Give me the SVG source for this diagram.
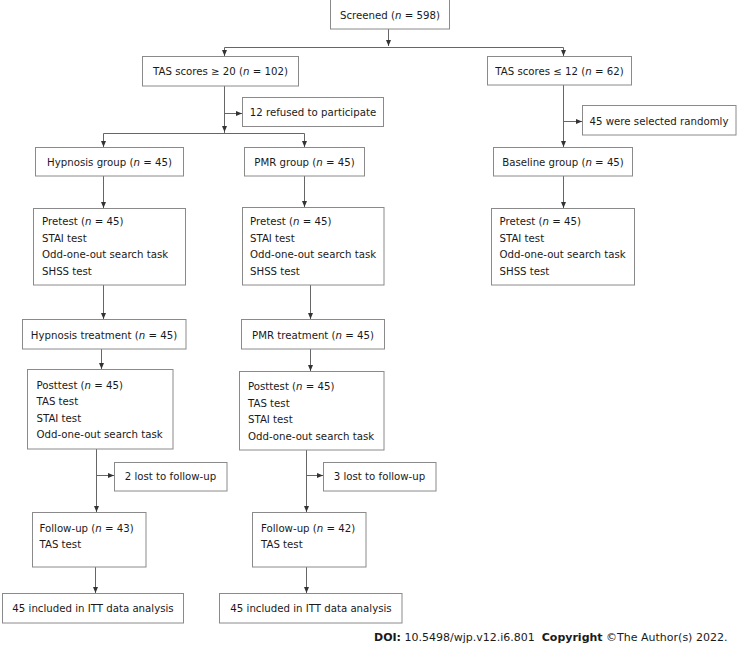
<svg xmlns="http://www.w3.org/2000/svg" width="738" height="645" viewBox="0 0 738 645">
<defs>
<marker id="ah" viewBox="0 0 6 6" refX="6" refY="3" markerWidth="6" markerHeight="6" markerUnits="userSpaceOnUse" orient="auto">
<path d="M0,0.5 L6,3 L0,5.5 z" fill="#333"/>
</marker>
<style>
.b{fill:#fff;stroke:#8a8a8a;stroke-width:1}
.t{font-family:"DejaVu Sans",Verdana,sans-serif;font-size:10.2px;fill:#1a1a1a}
.c{text-anchor:middle}
.l{fill:none;stroke:#666;stroke-width:1}
.a{fill:none;stroke:#666;stroke-width:1;marker-end:url(#ah)}
.i{font-style:italic}
.bold{font-weight:bold}
</style>
</defs>
<rect width="738" height="645" fill="#fff"/>

<g id="connectors">
<path class="a" d="M388.5,29 V46"/>
<path class="l" d="M224.5,47.5 H563.5"/>
<path class="a" d="M224.5,47.5 V56"/>
<path class="a" d="M563.5,47.5 V56"/>
<path class="l" d="M224.5,86 V133"/>
<path class="a" d="M224.5,113.5 H242"/>
<path class="a" d="M224.5,125 V132"/>
<path class="l" d="M103.5,133.5 H304.5"/>
<path class="a" d="M103.5,133.5 V147"/>
<path class="a" d="M304.5,133.5 V147"/>
<path class="a" d="M563.5,85 V147"/>
<path class="a" d="M563.5,121.5 H582"/>
<path class="a" d="M103.5,176 V208"/>
<path class="a" d="M304.5,176 V207"/>
<path class="a" d="M563.5,176 V208"/>
<path class="a" d="M103.5,285 V319"/>
<path class="a" d="M310.5,285 V319"/>
<path class="a" d="M101.5,349 V369"/>
<path class="a" d="M310.5,349 V371"/>
<path class="a" d="M96.5,449 V512"/>
<path class="a" d="M96.5,475.5 H114"/>
<path class="a" d="M306.5,450 V512"/>
<path class="a" d="M306.5,475.5 H323"/>
<path class="a" d="M95.5,567 V593"/>
<path class="a" d="M306.5,567 V593"/>
</g>

<g id="screened">
<rect class="b" x="330.5" y="-0.5" width="119" height="29.5"/>
<text class="t c" x="390" y="18.5">Screened (<tspan class="i">n</tspan> = 598)</text>
</g>
<g id="tas-high">
<rect class="b" x="142.5" y="56.5" width="156" height="29.5"/>
<text class="t c" x="220.5" y="75">TAS scores ≥ 20 (<tspan class="i">n</tspan> = 102)</text>
</g>
<g id="tas-low">
<rect class="b" x="487.5" y="56.5" width="144" height="28.5"/>
<text class="t c" x="559.5" y="74.5">TAS scores ≤ 12 (<tspan class="i">n</tspan> = 62)</text>
</g>
<g id="refused">
<rect class="b" x="242.5" y="97.5" width="141" height="29"/>
<text class="t c" x="313" y="115.5">12 refused to participate</text>
</g>
<g id="selected">
<rect class="b" x="582.5" y="105.5" width="153.5" height="29.5"/>
<text class="t c" x="659" y="124.5">45 were selected randomly</text>
</g>
<g id="hypnosis-group">
<rect class="b" x="35.5" y="147.5" width="148" height="28.5"/>
<text class="t c" x="109.5" y="165.5">Hypnosis group (<tspan class="i">n</tspan> = 45)</text>
</g>
<g id="pmr-group">
<rect class="b" x="244.5" y="147.5" width="120" height="28.5"/>
<text class="t c" x="304.5" y="165.5">PMR group (<tspan class="i">n</tspan> = 45)</text>
</g>
<g id="baseline-group">
<rect class="b" x="493.5" y="147.5" width="139" height="28.5"/>
<text class="t c" x="563" y="165.5">Baseline group (<tspan class="i">n</tspan> = 45)</text>
</g>
<g id="pretest-hypnosis">
<rect class="b" x="33.5" y="208.5" width="152" height="76.5"/>
<text class="t" x="42" y="225">Pretest (<tspan class="i">n</tspan> = 45)</text>
<text class="t" x="42" y="241.5">STAI test</text>
<text class="t" x="42" y="258">Odd-one-out search task</text>
<text class="t" x="42" y="274.5">SHSS test</text>
</g>
<g id="pretest-pmr">
<rect class="b" x="242.5" y="207.5" width="141.5" height="77.5"/>
<text class="t" x="250" y="225">Pretest (<tspan class="i">n</tspan> = 45)</text>
<text class="t" x="250" y="241.5">STAI test</text>
<text class="t" x="250" y="258">Odd-one-out search task</text>
<text class="t" x="250" y="274.5">SHSS test</text>
</g>
<g id="pretest-baseline">
<rect class="b" x="491.5" y="208.5" width="143" height="76.5"/>
<text class="t" x="499.5" y="225">Pretest (<tspan class="i">n</tspan> = 45)</text>
<text class="t" x="499.5" y="241.5">STAI test</text>
<text class="t" x="499.5" y="258">Odd-one-out search task</text>
<text class="t" x="499.5" y="274.5">SHSS test</text>
</g>
<g id="hypnosis-treatment">
<rect class="b" x="22.5" y="319.5" width="163.5" height="29.5"/>
<text class="t c" x="104" y="338.5">Hypnosis treatment (<tspan class="i">n</tspan> = 45)</text>
</g>
<g id="pmr-treatment">
<rect class="b" x="241.5" y="319.5" width="143" height="29.5"/>
<text class="t c" x="313" y="338.5">PMR treatment (<tspan class="i">n</tspan> = 45)</text>
</g>
<g id="posttest-hypnosis">
<rect class="b" x="27.5" y="369.5" width="145.5" height="79.5"/>
<text class="t" x="36.5" y="388.5">Posttest (<tspan class="i">n</tspan> = 45)</text>
<text class="t" x="36.5" y="405">TAS test</text>
<text class="t" x="36.5" y="421.5">STAI test</text>
<text class="t" x="36.5" y="438">Odd-one-out search task</text>
</g>
<g id="posttest-pmr">
<rect class="b" x="239.5" y="371.5" width="144.5" height="78.5"/>
<text class="t" x="248" y="390">Posttest (<tspan class="i">n</tspan> = 45)</text>
<text class="t" x="248" y="406.5">TAS test</text>
<text class="t" x="248" y="423">STAI test</text>
<text class="t" x="248" y="439.5">Odd-one-out search task</text>
</g>
<g id="lost-hypnosis">
<rect class="b" x="114.5" y="462.5" width="112.5" height="28.5"/>
<text class="t c" x="170.5" y="480">2 lost to follow-up</text>
</g>
<g id="lost-pmr">
<rect class="b" x="323.5" y="462.5" width="112.5" height="28.5"/>
<text class="t c" x="379.5" y="480">3 lost to follow-up</text>
</g>
<g id="followup-hypnosis">
<rect class="b" x="32.5" y="512.5" width="113.5" height="54.5"/>
<text class="t" x="39.5" y="531.5">Follow-up (<tspan class="i">n</tspan> = 43)</text>
<text class="t" x="39.5" y="548">TAS test</text>
</g>
<g id="followup-pmr">
<rect class="b" x="252.5" y="512.5" width="113.5" height="54.5"/>
<text class="t" x="261" y="531.5">Follow-up (<tspan class="i">n</tspan> = 42)</text>
<text class="t" x="261" y="548">TAS test</text>
</g>
<g id="itt-hypnosis">
<rect class="b" x="2.5" y="593.5" width="181" height="29.5"/>
<text class="t c" x="93" y="612">45 included in ITT data analysis</text>
</g>
<g id="itt-pmr">
<rect class="b" x="219.5" y="593.5" width="182.5" height="29.5"/>
<text class="t c" x="311" y="612">45 included in ITT data analysis</text>
</g>

<g id="footer">
<text class="t" x="374" y="640.5" style="font-size:11px"><tspan class="bold">DOI:</tspan> 10.5498/wjp.v12.i6.801<tspan class="bold" dx="7">Copyright</tspan> ©The Author(s) 2022.</text>
</g>
</svg>
